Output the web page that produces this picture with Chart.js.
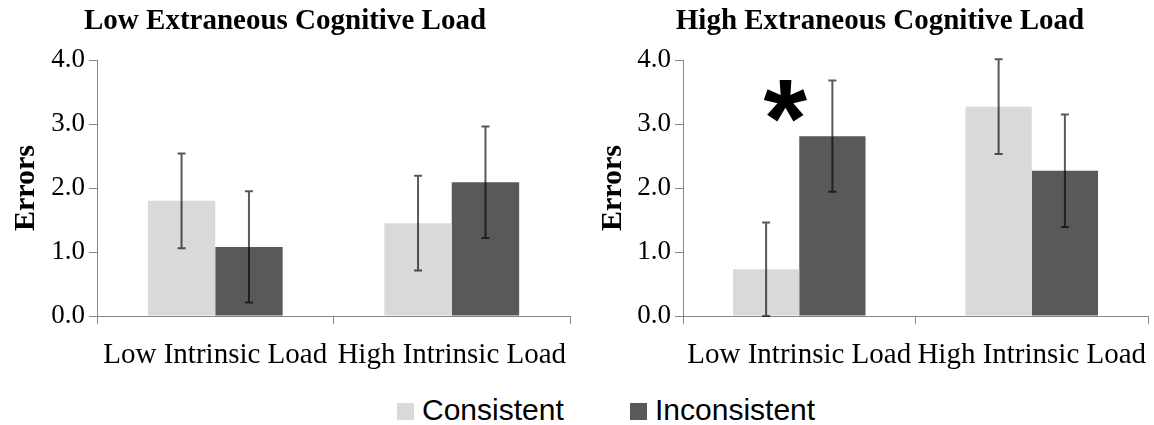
<!DOCTYPE html>
<html>
<head>
<meta charset="utf-8">
<script src="https://cdn.jsdelivr.net/npm/chart.js@4.4.0/dist/chart.umd.min.js"></script>
<style>
  body { margin: 0; background: #fff; }
  #page { position: relative; width: 1154px; height: 425px; overflow: hidden; background: #fff; }
  canvas { position: absolute; top: 0; }
  .key { position: absolute; top: 394px; font-family: "Liberation Sans", Arial, sans-serif; font-size: 30px; color: #000; white-space: nowrap; line-height: 32px; }
  .key i { display: inline-block; width: 17px; height: 17px; margin-right: 8px; vertical-align: 0px; }
</style>
</head>
<body>
<div id="page">
  <canvas id="lowExt" width="577" height="380" style="left:0px;width:577px;height:380px"></canvas>
  <canvas id="highExt" width="568" height="380" style="left:586px;width:568px;height:380px"></canvas>
  <div class="key" style="left:397px"><i style="background:#d9d9d9"></i>Consistent</div>
  <div class="key" style="left:630px"><i style="background:#595959"></i>Inconsistent</div>
</div>
<script>
// categories and series
const categories = ['Low Intrinsic Load', 'High Intrinsic Load']
const seriesNames = ['Consistent', 'Inconsistent']
const yTicks = [0, 1, 2, 3, 4]

// Low extraneous load panel
const lowExtConsistent = [1.80, 1.45]
const lowExtConsistentErr = [0.74, 0.74]
const lowExtInconsistent = [1.08, 2.09]
const lowExtInconsistentErr = [0.87, 0.87]

// High extraneous load panel
const highExtConsistent = [0.73, 3.27]
const highExtConsistentErr = [0.73, 0.74]
const highExtInconsistent = [2.81, 2.27]
const highExtInconsistentErr = [0.87, 0.88]

const COLORS = ['#d9d9d9', '#595959']
const AXIS_GRAY = '#868686'
const SERIF = "'Liberation Serif', 'Times New Roman', serif"

// draws +/- error whiskers on top of every bar
const errorBars = {
  id: 'errorBars',
  afterDatasetsDraw(chart) {
    const ctx = chart.ctx
    const yScale = chart.scales.y
    ctx.save()
    ctx.strokeStyle = 'rgba(0, 0, 0, 0.65)'
    ctx.lineWidth = 2
    chart.data.datasets.forEach((ds, i) => {
      const meta = chart.getDatasetMeta(i)
      meta.data.forEach((bar, j) => {
        const v = ds.data[j]
        const e = ds.errors[j]
        const top = yScale.getPixelForValue(v + e)
        const bottom = yScale.getPixelForValue(Math.max(0, v - e))
        ctx.beginPath()
        ctx.moveTo(bar.x, top)
        ctx.lineTo(bar.x, bottom)
        ctx.moveTo(bar.x - 4, top)
        ctx.lineTo(bar.x + 4, top)
        ctx.moveTo(bar.x - 4, bottom)
        ctx.lineTo(bar.x + 4, bottom)
        ctx.stroke()
      })
    })
    ctx.restore()
  }
}

// significance star next to a chosen bar
const starMark = {
  id: 'starMark',
  afterDatasetsDraw(chart, args, opts) {
    if (!opts || opts.dataset === undefined) return
    const bar = chart.getDatasetMeta(opts.dataset).data[opts.index]
    const x = bar.x + bar.width * opts.shift
    const y = chart.scales.y.getPixelForValue(opts.value)
    const ctx = chart.ctx
    ctx.save()
    ctx.font = "bold 112px 'Liberation Sans', Arial, sans-serif"
    ctx.fillStyle = '#000'
    ctx.textAlign = 'center'
    ctx.textBaseline = 'alphabetic'
    const m = ctx.measureText('*')
    const mid = (m.actualBoundingBoxAscent - m.actualBoundingBoxDescent) / 2
    ctx.fillText('*', x, y + mid)
    ctx.restore()
  }
}

function buildChart(id, title, consistent, consistentErr, inconsistent, inconsistentErr, layout, star) {
  return new Chart(document.getElementById(id), {
    type: 'bar',
    data: {
      labels: categories,
      datasets: [
        { label: seriesNames[0], data: consistent, errors: consistentErr, backgroundColor: COLORS[0] },
        { label: seriesNames[1], data: inconsistent, errors: inconsistentErr, backgroundColor: COLORS[1] }
      ]
    },
    options: {
      responsive: false,
      animation: false,
      devicePixelRatio: 1,
      layout: { padding: { left: layout.padLeft, right: layout.padRight, top: 0, bottom: 0 } },
      datasets: { bar: { categoryPercentage: 0.57, barPercentage: 1.0, borderWidth: 0 } },
      plugins: {
        legend: { display: false },
        tooltip: { enabled: false },
        title: {
          display: true,
          text: title,
          color: '#000',
          font: { family: SERIF, size: 29, weight: 'bold' },
          padding: { top: 4, bottom: 21.2 }
        },
        starMark: star || {}
      },
      scales: {
        x: {
          grid: { offset: true, drawOnChartArea: false, drawTicks: true, tickLength: 8, color: AXIS_GRAY },
          border: { color: AXIS_GRAY, width: 1 },
          ticks: { color: '#000', font: { family: SERIF, size: 29 }, autoSkip: false, maxRotation: 0, minRotation: 0, padding: 14 },
          afterFit: (s) => {
            s.height = 64
            // labels may run to the edge, keep the plot width fixed
            s.paddingLeft = 0
            s.paddingRight = 0
          }
        },
        y: {
          min: 0,
          max: 4,
          afterBuildTicks: (s) => { s.ticks = yTicks.map(v => ({ value: v })) },
          grid: { drawOnChartArea: false, drawTicks: true, tickLength: 8, color: AXIS_GRAY },
          border: { color: AXIS_GRAY, width: 1 },
          ticks: { color: '#000', font: { family: SERIF, size: 27 }, padding: 4, callback: (v) => Number(v).toFixed(1) },
          title: {
            display: true,
            text: 'Errors',
            color: '#000',
            font: { family: SERIF, size: 30, weight: 'bold' },
            padding: { top: layout.titlePad, bottom: 0 }
          },
          afterFit: (s) => { s.width = layout.yWidth }
        }
      }
    },
    plugins: [errorBars, starMark]
  })
}

buildChart('lowExt', 'Low Extraneous Cognitive Load',
  lowExtConsistent, lowExtConsistentErr, lowExtInconsistent, lowExtInconsistentErr,
  { padLeft: 0, padRight: 7, yWidth: 97, titlePad: 8 })

buildChart('highExt', 'High Extraneous Cognitive Load',
  highExtConsistent, highExtConsistentErr, highExtInconsistent, highExtInconsistentErr,
  { padLeft: 26, padRight: 6, yWidth: 71, titlePad: -16.5 },
  { dataset: 0, index: 0, shift: 0.29, value: 3.36 })
</script>
</body>
</html>
